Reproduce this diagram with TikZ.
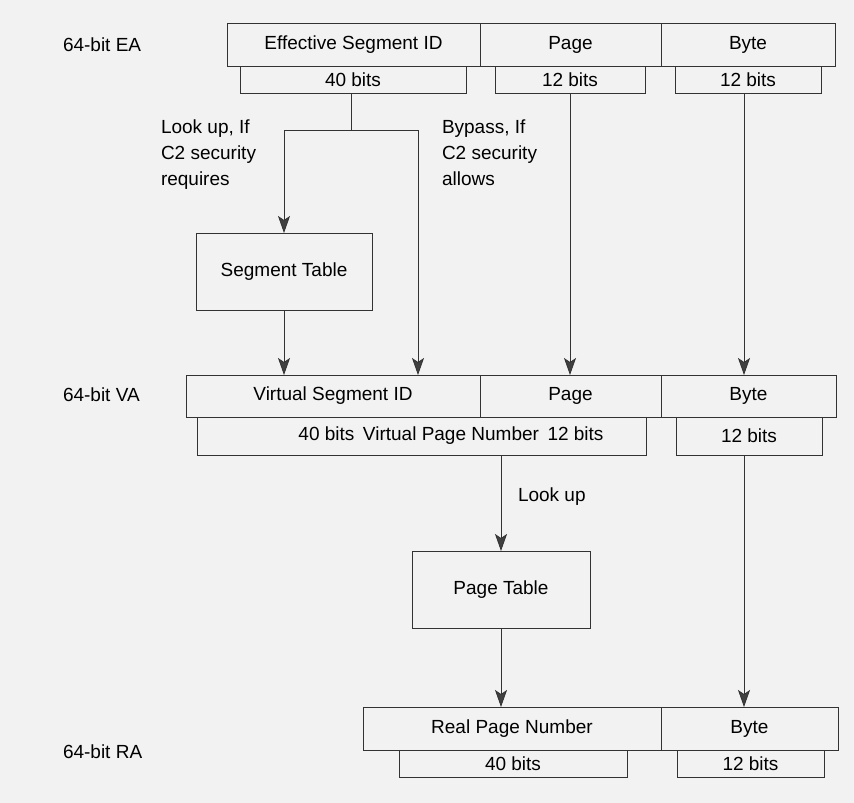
\documentclass[tikz,border=0pt]{standalone}
\usepackage{fontspec}
\setmainfont{Liberation Sans}
\usetikzlibrary{arrows.meta}
\begin{document}
\begin{tikzpicture}[x=1pt,y=-1pt,
  box/.style={draw=black!80, line width=0.8pt, inner sep=0pt, outer sep=0pt, text=black, font=\fontsize{19}{22}\selectfont},
  lbl/.style={font=\fontsize{19}{26}\selectfont, inner sep=0pt, outer sep=0pt, text=black},
  conn/.style={draw=black!80, line width=0.8pt},
  arr/.style={conn, -{Stealth[length=17pt,width=12pt,inset=4pt,fill=black!75]}}
]
\fill[black!5] (0,0) rectangle (854,803);
\useasboundingbox (0,0) rectangle (854,803);

% 64-bit EA
\node[lbl, anchor=west] (ea) at (63,45) {64-bit EA};
\node[box, minimum width=253pt, minimum height=43pt] (esid) at (353.5,44.5) {Effective Segment ID};
\node[box, minimum width=181pt, minimum height=43pt] (epage) at (570.5,44.5) {Page};
\node[box, minimum width=174pt, minimum height=43pt] (ebyte) at (748,44.5) {Byte};
\node[box, minimum width=226pt, minimum height=27pt] (ebits40) at (353,79.5) {40 bits};
\node[box, minimum width=150pt, minimum height=27pt] (ebitsp) at (570,79.5) {12 bits};
\node[box, minimum width=146pt, minimum height=27pt] (ebitsb) at (748,79.5) {12 bits};

% labels for the two paths
\node[lbl, anchor=north west, align=left] (lkl) at (161,120) {Look up, If\\C2 security\\requires};
\node[lbl, anchor=north west, align=left] (bpl) at (442,120) {Bypass, If\\C2 security\\allows};

% Segment Table
\node[box, minimum width=176pt, minimum height=77pt] (st) at (284,271.5) {Segment Table};

% 64-bit VA
\node[lbl, anchor=west] (va) at (63,395) {64-bit VA};
\node[box, minimum width=294pt, minimum height=42pt] (vsid) at (333,396) {Virtual Segment ID};
\node[box, minimum width=181pt, minimum height=42pt] (vpage) at (570.5,396) {Page};
\node[box, minimum width=175pt, minimum height=42pt] (vbyte) at (748.5,396) {Byte};
\node[box, minimum width=449pt, minimum height=38pt] (vpn) at (421.5,436) {};
\node[lbl] (vpntext) at (451,436) {40 bits\hspace{0.45em}Virtual Page Number\hspace{0.45em}12 bits};
\node[box, minimum width=146pt, minimum height=38pt] (vbits) at (749,436) {12 bits};

% Page Table
\node[lbl, anchor=west] (lk2) at (518,497) {Look up};
\node[box, minimum width=178pt, minimum height=77pt] (pt) at (501,589.5) {Page Table};

% 64-bit RA
\node[lbl, anchor=west] (ra) at (63,752) {64-bit RA};
\node[box, minimum width=298pt, minimum height=43pt] (rpn) at (512,728.5) {Real Page Number};
\node[box, minimum width=177pt, minimum height=43pt] (rbyte) at (749.5,728.5) {Byte};
\node[box, minimum width=228pt, minimum height=27pt] (rbits40) at (513,763.5) {40 bits};
\node[box, minimum width=147pt, minimum height=27pt] (rbits12) at (750.5,763.5) {12 bits};

% connectors
\coordinate (jn) at (351,130);
\coordinate (jl) at (284,130);
\coordinate (jr) at (418,130);
\coordinate (bx) at (744,0);
\coordinate (lx) at (501,0);
\draw[conn] (jn |- ebits40.south) -- (jn);
\draw[conn] (jl) -- (jr);
\draw[arr] (jl) -- (st.north);
\draw[arr] (jr) -- (jr |- vsid.north);
\draw[arr] (st.south) -- (st.south |- vsid.north);
\draw[arr] (ebitsp.south) -- (ebitsp.south |- vpage.north);
\draw[arr] (bx |- ebitsb.south) -- (bx |- vbyte.north);
\draw[arr] (lx |- vpn.south) -- (pt.north);
\draw[arr] (pt.south) -- (pt.south |- rpn.north);
\draw[arr] (bx |- vbits.south) -- (bx |- rbyte.north);
\end{tikzpicture}
\end{document}
